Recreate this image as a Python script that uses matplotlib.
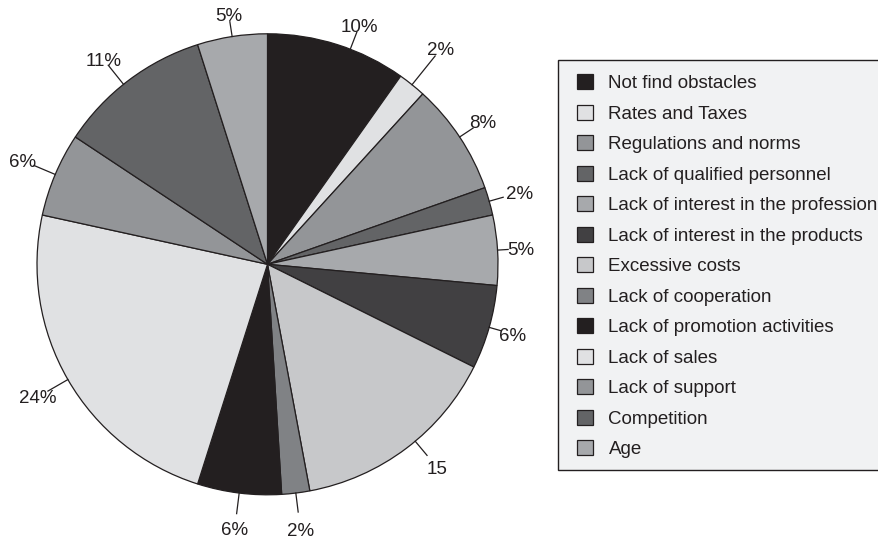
import numpy as np
import matplotlib
matplotlib.use("Agg")
import matplotlib.pyplot as plt
from matplotlib.patches import Rectangle

plt.rcParams['font.family'] = ['Liberation Sans', 'DejaVu Sans']

categories = ["Not find obstacles", "Rates and Taxes", "Regulations and norms",
              "Lack of qualified personnel", "Lack of interest in the profession",
              "Lack of interest in the products", "Excessive costs", "Lack of cooperation",
              "Lack of promotion activities", "Lack of sales", "Lack of support",
              "Competition", "Age"]
values = [10, 2, 8, 2, 5, 6, 15, 2, 6, 24, 6, 11, 5]
labels = ["10%", "2%", "8%", "2%", "5%", "6%", "15", "2%", "6%", "24%", "6%", "11%", "5%"]
colors = ["#231f20", "#e0e1e3", "#939598", "#636466", "#a7a9ac", "#414042", "#c7c8ca",
          "#808285", "#231f20", "#e0e1e3", "#939598", "#636466", "#a7a9ac"]

# layout settings for the outside labels (in pie radii / degrees)
label_radius = [1.11, 1.20, 1.12, 1.137, 1.10, 1.106, 1.147, 1.16, 1.157, 1.15, 1.154, 1.14, 1.096]
leader_end = [1.08, 1.16, 1.07, 1.063, 1.046, 1.055, 1.08, 1.083, 1.09, 1.10, 1.10, 1.106, 1.065]
angle_shift = [3.4, 0, 0, 0, 0, 0, -2.8, 0, 0, 0, 0, -1.6, 0]

W, H = 879, 539
fig = plt.figure(figsize=(W / 100, H / 100), dpi=100)
cx, cy, R = 267.5, 264.3, 230.5
ax = fig.add_axes([(cx - R) / W, (H - cy - R) / H, 2 * R / W, 2 * R / H])
wedges, _ = ax.pie(values, colors=colors, startangle=90, counterclock=False,
                   wedgeprops=dict(edgecolor="#231f20", linewidth=0.9))
ax.set_xlim(-1, 1)
ax.set_ylim(-1, 1)
ax.set_aspect("equal")
ax.axis("off")

FS = 13.5
for w, lab, rt, rl, da in zip(wedges, labels, label_radius, leader_end, angle_shift):
    ang = np.deg2rad((w.theta1 + w.theta2) / 2 - da)
    c, s = np.cos(ang), np.sin(ang)
    ax.plot([c * 1.0, c * rl], [s * 1.0, s * rl], color="#231f20", lw=0.9,
            clip_on=False)
    ax.text(c * rt, s * rt, lab, ha="center", va="center_baseline", fontsize=FS,
            color="#231f20")

# legend frame (its right side runs past the image edge)
fig.patches.append(Rectangle((558.3 / W, 1 - 470 / H), 330 / W, 410 / H,
                             transform=fig.transFigure, facecolor="#f1f2f3",
                             edgecolor="#231f20", linewidth=1.0, zorder=0))
leg = fig.legend(wedges, categories, loc="upper left",
                 bbox_to_anchor=(568 / W, 1 - 65 / H), frameon=False,
                 fontsize=FS, handlelength=0.86, handleheight=0.86,
                 handletextpad=0.8, labelspacing=0.665, borderpad=0.5,
                 borderaxespad=0)
for t in leg.get_texts():
    t.set_color("#231f20")

fig.savefig("out.png", dpi=100)
